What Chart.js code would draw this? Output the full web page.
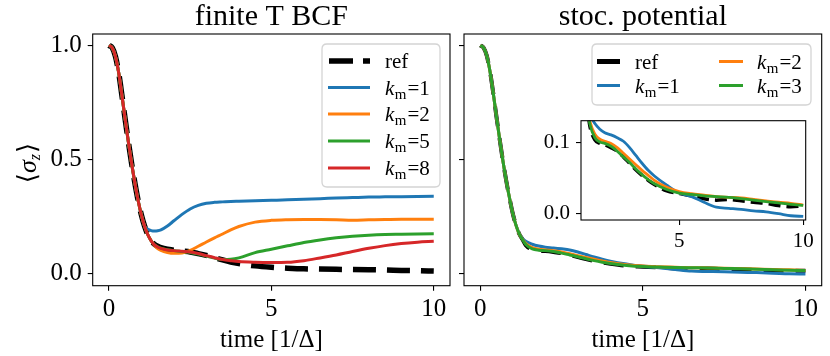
<!DOCTYPE html>
<html>
<head>
<meta charset="utf-8">
<script src="https://cdn.jsdelivr.net/npm/chart.js@4.4.1/dist/chart.umd.min.js"></script>
<style>
html,body{margin:0;padding:0;background:#fff;}
#wrap{position:relative;width:830px;height:356px;overflow:hidden;}
canvas{position:absolute;left:0;top:0;}
</style>
</head>
<body>
<div id="wrap">
<canvas id="c1" width="830" height="356"></canvas>
<canvas id="c2" width="830" height="356"></canvas>
<canvas id="c3" width="830" height="356"></canvas>
</div>
<script>
// ---------- data ----------
const TIME_L = [0,0.1,0.2,0.3,0.4,0.5,0.6,0.7,0.8,0.9,1.0,1.1,1.2,1.3,1.4,1.5,1.6,1.8,2.0,2.25,2.5,2.75,3.0,3.25,3.5,3.75,4.0,4.5,5.0,5.5,6.0,6.5,7.0,7.5,8.0,8.5,9.0,9.5,10.0];
const REF_L = [1.0,0.99,0.952,0.88,0.78,0.675,0.575,0.48,0.395,0.318,0.255,0.205,0.168,0.142,0.127,0.118,0.112,0.105,0.101,0.097,0.093,0.086,0.078,0.068,0.058,0.049,0.042,0.032,0.026,0.022,0.019,0.018,0.017,0.016,0.015,0.014,0.012,0.011,0.009];
const KM1_L = [1.0,0.99,0.952,0.88,0.78,0.675,0.575,0.48,0.395,0.318,0.255,0.207,0.193,0.187,0.185,0.186,0.19,0.207,0.23,0.258,0.282,0.298,0.307,0.311,0.313,0.315,0.316,0.318,0.32,0.322,0.325,0.327,0.33,0.332,0.334,0.335,0.336,0.337,0.338];
const KM2_L = [1.0,0.99,0.952,0.88,0.78,0.675,0.575,0.48,0.395,0.318,0.255,0.205,0.168,0.142,0.122,0.108,0.1,0.091,0.087,0.089,0.1,0.118,0.137,0.155,0.172,0.19,0.205,0.224,0.232,0.235,0.236,0.236,0.235,0.232,0.234,0.236,0.237,0.237,0.237];
const KM5_L = [1.0,0.99,0.952,0.88,0.78,0.675,0.575,0.48,0.395,0.318,0.255,0.205,0.168,0.142,0.125,0.116,0.11,0.103,0.099,0.095,0.091,0.084,0.075,0.066,0.06,0.061,0.067,0.09,0.105,0.12,0.135,0.146,0.155,0.162,0.167,0.17,0.171,0.172,0.173];
const KM8_L = [1.0,0.99,0.952,0.88,0.78,0.675,0.575,0.48,0.395,0.318,0.255,0.205,0.168,0.142,0.124,0.115,0.109,0.102,0.099,0.096,0.093,0.086,0.077,0.068,0.06,0.055,0.051,0.048,0.047,0.048,0.055,0.067,0.08,0.095,0.109,0.121,0.13,0.136,0.14];

const TIME_R = [0,0.1,0.2,0.3,0.4,0.5,0.6,0.7,0.8,0.9,1.0,1.1,1.2,1.3,1.4,1.6,1.8,2.0,2.25,2.5,2.75,3.0,3.25,3.5,3.75,4.0,4.5,5.0,5.5,6.0,6.5,7.0,7.5,8.0,8.5,9.0,9.5,10.0];
const REF_R = [1.0,0.99,0.955,0.885,0.79,0.685,0.585,0.49,0.405,0.33,0.262,0.21,0.172,0.148,0.123,0.104,0.099,0.097,0.093,0.088,0.08,0.071,0.062,0.054,0.047,0.041,0.032,0.0285,0.025,0.021,0.019,0.02,0.018,0.016,0.0145,0.0115,0.0098,0.011];
const KM1_R = [1.0,0.99,0.955,0.885,0.79,0.685,0.585,0.49,0.405,0.33,0.262,0.21,0.174,0.152,0.14,0.127,0.119,0.114,0.111,0.107,0.102,0.093,0.082,0.071,0.061,0.053,0.04,0.029,0.024,0.016,0.009,0.0075,0.006,0.004,0.0025,0.0,-0.003,-0.004];
const KM2_R = [1.0,0.99,0.955,0.885,0.79,0.685,0.585,0.49,0.405,0.33,0.262,0.21,0.172,0.149,0.13,0.112,0.105,0.102,0.099,0.093,0.085,0.077,0.069,0.061,0.054,0.047,0.037,0.031,0.028,0.026,0.024,0.023,0.022,0.02,0.018,0.016,0.0145,0.012];
const KM3_R = [1.0,0.99,0.955,0.885,0.79,0.685,0.585,0.49,0.405,0.33,0.262,0.21,0.172,0.148,0.126,0.107,0.101,0.099,0.095,0.088,0.08,0.072,0.063,0.055,0.048,0.042,0.034,0.029,0.027,0.025,0.024,0.023,0.021,0.019,0.017,0.015,0.013,0.0115];

const X_TICKS = [0, 5, 10];
const Y_TICKS = [0, 0.5, 1.0];
const Y_TICK_LABELS = ['0.0', '0.5', '1.0'];
const INSET_X_TICKS = [5, 10];
const INSET_Y_TICKS = [0, 0.1];
const INSET_Y_TICK_LABELS = ['0.0', '0.1'];

const LEGEND_L = ['ref', '1', '2', '5', '8'];
const LEGEND_R = ['ref', '1', '2', '3'];
const TITLES = ['finite T BCF', 'stoc. potential'];
const X_LABEL = 'time [1/\u0394]';

// ---------- style ----------
const C_BLUE = '#1f77b4', C_ORANGE = '#ff7f0e', C_GREEN = '#2ca02c', C_RED = '#d62728';
const SERIF = "'Liberation Serif', 'DejaVu Serif', serif";
Chart.defaults.color = '#000';
Chart.defaults.font.family = SERIF;

function pts(t, v) { return t.map((x, i) => ({x: x, y: v[i]})); }
function ds(t, v, color, width, dash, order) {
  return {data: pts(t, v), borderColor: color, borderWidth: width, borderDash: dash || [],
    pointRadius: 0, fill: false, cubicInterpolationMode: 'monotone', order: order,
    borderCapStyle: 'butt', borderJoinStyle: 'round'};
}

function kmLabel(ctx, x, y, val, size) {
  ctx.textBaseline = 'alphabetic';
  ctx.textAlign = 'left';
  ctx.font = 'italic ' + size + 'px ' + SERIF;
  ctx.fillText('k', x, y);
  let w = ctx.measureText('k').width;
  ctx.font = Math.round(size * 0.7) + 'px ' + SERIF;
  ctx.fillText('m', x + w + 0.5, y + size * 0.2);
  w += ctx.measureText('m').width + 1.5;
  ctx.font = size + 'px ' + SERIF;
  ctx.fillText('=' + val, x + w, y);
}

function framePlugin(opts) {
  return {
    id: 'frame' + Math.floor(Math.random() * 1e6),
    beforeDraw(chart) {
      if (opts.whiteBg) {
        const a = chart.chartArea, c = chart.ctx;
        c.save(); c.fillStyle = '#fff';
        c.fillRect(a.left, a.top, a.right - a.left, a.bottom - a.top);
        c.restore();
      }
    },
    afterDraw(chart) {
      const a = chart.chartArea, c = chart.ctx;
      c.save();
      c.strokeStyle = '#000'; c.lineWidth = 1.1;
      c.strokeRect(a.left, a.top, a.right - a.left, a.bottom - a.top);
      if (opts.title) {
        c.fillStyle = '#000';
        c.font = '30px ' + SERIF;
        c.textAlign = 'center'; c.textBaseline = 'alphabetic';
        c.fillText(opts.title, (a.left + a.right) / 2, 25);
      }
      if (opts.ylabel) {
        c.translate(28, 163);
        c.rotate(-Math.PI / 2);
        c.fillStyle = '#000';
        c.textBaseline = 'alphabetic'; c.textAlign = 'left';
        const f1 = '26px ' + SERIF, f2 = 'italic 26px ' + SERIF, f3 = 'italic 16px ' + SERIF;
        c.font = f1; const w1 = c.measureText('\u27E8').width;
        c.font = f2; const w2 = c.measureText('\u03C3').width;
        c.font = f3; const w3 = c.measureText('z').width;
        c.font = f1; const w4 = c.measureText('\u27E9').width;
        let x = -(w1 + w2 + w3 + w4 + 1) / 2;
        c.font = f1; c.fillText('\u27E8', x, 8); x += w1;
        c.font = f2; c.fillText('\u03C3', x, 8); x += w2;
        c.font = f3; c.fillText('z', x, 12); x += w3 + 1;
        c.font = f1; c.fillText('\u27E9', x, 8);
        c.setTransform(1, 0, 0, 1, 0, 0);
      }
      if (opts.legend) opts.legend(c);
      c.restore();
    }
  };
}

function legendBox(c, x0, y0, x1, y1) {
  const r = 5;
  c.beginPath();
  c.moveTo(x0 + r, y0); c.lineTo(x1 - r, y0); c.quadraticCurveTo(x1, y0, x1, y0 + r);
  c.lineTo(x1, y1 - r); c.quadraticCurveTo(x1, y1, x1 - r, y1);
  c.lineTo(x0 + r, y1); c.quadraticCurveTo(x0, y1, x0, y1 - r);
  c.lineTo(x0, y0 + r); c.quadraticCurveTo(x0, y0, x0 + r, y0);
  c.closePath();
  c.fillStyle = 'rgba(255,255,255,0.8)'; c.fill();
  c.strokeStyle = '#d4d4d4'; c.lineWidth = 1.3; c.stroke();
}

function handle(c, x0, x1, y, color, width, dash) {
  c.beginPath(); c.setLineDash(dash || []); c.lineCap = 'butt';
  c.strokeStyle = color; c.lineWidth = width;
  c.moveTo(x0, y); c.lineTo(x1, y); c.stroke(); c.setLineDash([]);
}

function legendLeft(c) {
  legendBox(c, 322, 44, 440, 187);
  const rows = [61, 87.5, 114, 141, 168];
  const cols = ['#000', C_BLUE, C_ORANGE, C_GREEN, C_RED];
  for (let i = 0; i < LEGEND_L.length; i++) {
    if (i === 0) handle(c, 329, 370, rows[i], '#000', 5.5, [24, 10]);
    else handle(c, 328, 370, rows[i], cols[i], 3);
    c.fillStyle = '#000';
    if (i === 0) { c.font = '21px ' + SERIF; c.textBaseline = 'alphabetic'; c.textAlign = 'left'; c.fillText(LEGEND_L[i], 385, rows[i] + 7); }
    else kmLabel(c, 385, rows[i] + 7, LEGEND_L[i], 21);
  }
}

function legendRight(c) {
  legendBox(c, 592, 44, 811, 105);
  const pos = [[597, 620, 635, 61.5], [597, 620, 635, 85.5], [719, 743, 757, 61.5], [719, 743, 757, 85.5]];
  const cols = ['#000', C_BLUE, C_ORANGE, C_GREEN];
  for (let i = 0; i < LEGEND_R.length; i++) {
    const p = pos[i];
    handle(c, p[0], p[1], p[3], cols[i], i === 0 ? 5 : 3);
    c.fillStyle = '#000';
    if (i === 0) { c.font = '21px ' + SERIF; c.textBaseline = 'alphabetic'; c.textAlign = 'left'; c.fillText(LEGEND_R[i], p[2], p[3] + 7); }
    else kmLabel(c, p[2], p[3] + 7, LEGEND_R[i], 21);
  }
}

function xScale(min, max, ticks, fontSize, titleText, h) {
  return {
    type: 'linear', min: min, max: max,
    afterBuildTicks: s => { s.ticks = ticks.map(v => ({value: v})); },
    afterFit: s => { s.height = h; },
    ticks: {font: {size: fontSize, family: SERIF}, color: '#000', padding: 4, maxRotation: 0,
      callback: v => String(v)},
    grid: {display: true, drawOnChartArea: false, drawTicks: true, tickLength: 5, color: '#000', lineWidth: 1.1},
    border: {display: false},
    title: titleText ? {display: true, text: titleText, font: {size: 25, family: SERIF}, color: '#000', padding: {top: 0, bottom: 1}} : {display: false}
  };
}
function yScale(min, max, ticks, labels, fontSize, w) {
  return {
    type: 'linear', min: min, max: max,
    afterBuildTicks: s => { s.ticks = ticks.map(v => ({value: v})); },
    afterFit: s => { s.width = w; },
    ticks: {font: {size: fontSize, family: SERIF}, color: '#000', padding: 6,
      callback: (v) => { if (!labels) return ''; const i = ticks.indexOf(v); return i >= 0 ? labels[i] : ''; }},
    grid: {display: true, drawOnChartArea: false, drawTicks: true, tickLength: 5, color: '#000', lineWidth: 1.1},
    border: {display: false}
  };
}

const commonOpts = {responsive: false, animation: false, devicePixelRatio: 1,
  plugins: {legend: {display: false}, tooltip: {enabled: false}, title: {display: false}}};

// ---------- left panel ----------
new Chart(document.getElementById('c1'), {
  type: 'line',
  data: {datasets: [
    ds(TIME_L, REF_L, '#000', 5.5, [23, 11], 10),
    ds(TIME_L, KM1_L, C_BLUE, 3, null, 4),
    ds(TIME_L, KM2_L, C_ORANGE, 3, null, 3),
    ds(TIME_L, KM5_L, C_GREEN, 3, null, 2),
    ds(TIME_L, KM8_L, C_RED, 3, null, 1)
  ]},
  options: Object.assign({}, commonOpts, {
    layout: {padding: {left: 0, right: 380, top: 34, bottom: 0}},
    scales: {
      x: xScale(-0.5, 10.5, X_TICKS, 25, X_LABEL, 70.3),
      y: yScale(-0.055, 1.05, Y_TICKS, Y_TICK_LABELS, 25, 92.7)
    }
  }),
  plugins: [framePlugin({title: TITLES[0], ylabel: true, legend: legendLeft})]
});

// ---------- right panel ----------
new Chart(document.getElementById('c2'), {
  type: 'line',
  data: {datasets: [
    ds(TIME_R, REF_R, '#000', 4, [20, 12], 10),
    ds(TIME_R, KM1_R, C_BLUE, 3, null, 3),
    ds(TIME_R, KM2_R, C_ORANGE, 3, null, 2),
    ds(TIME_R, KM3_R, C_GREEN, 3, null, 1)
  ]},
  options: Object.assign({}, commonOpts, {
    layout: {padding: {left: 455, right: 8.3, top: 34, bottom: 0}},
    scales: {
      x: xScale(-0.5, 10.5, X_TICKS, 25, X_LABEL, 70.3),
      y: yScale(-0.055, 1.05, Y_TICKS, null, 25, 9)
    }
  }),
  plugins: [framePlugin({title: TITLES[1], legend: legendRight})]
});

// ---------- inset ----------
new Chart(document.getElementById('c3'), {
  type: 'line',
  data: {datasets: [
    ds(TIME_R, REF_R, '#000', 3.5, [12, 6], 10),
    ds(TIME_R, KM1_R, C_BLUE, 2.8, null, 3),
    ds(TIME_R, KM2_R, C_ORANGE, 2.8, null, 2),
    ds(TIME_R, KM3_R, C_GREEN, 2.8, null, 1)
  ]},
  options: Object.assign({}, commonOpts, {
    layout: {padding: {left: 531, right: 24.3, top: 120.7, bottom: 0}},
    scales: {
      x: xScale(1.04, 10.1, INSET_X_TICKS, 21, null, 136),
      y: yScale(-0.009, 0.131, INSET_Y_TICKS, INSET_Y_TICK_LABELS, 21, 50)
    }
  }),
  plugins: [framePlugin({whiteBg: true})]
});
</script>
</body>
</html>
